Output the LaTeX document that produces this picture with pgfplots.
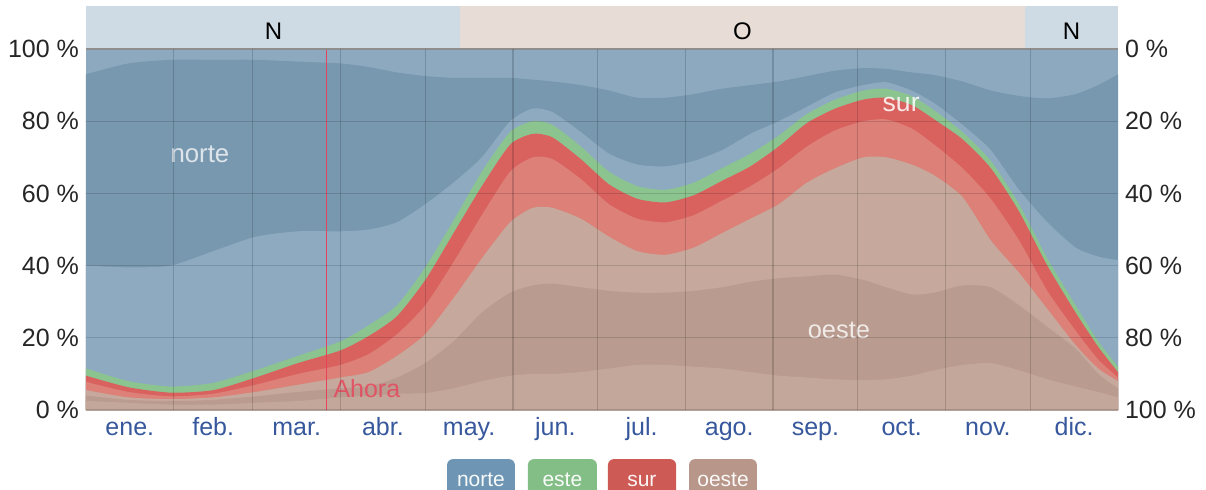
\documentclass[border=0pt]{standalone}
\usepackage{fontspec}
\setmainfont{Liberation Sans}
\usepackage{pgfplots}
\usepackage{pgfplotstable}
\pgfplotsset{compat=1.18}

\definecolor{nTop}{HTML}{8CA9C0}
\definecolor{nDark}{HTML}{7898B0}
\definecolor{nLight}{HTML}{8DAAC1}
\definecolor{eGreen}{HTML}{8CC490}
\definecolor{sDark}{HTML}{D9625F}
\definecolor{sLight}{HTML}{DC8078}
\definecolor{wLight}{HTML}{C6A99C}
\definecolor{wDark}{HTML}{B99B8F}
\definecolor{wBottom}{HTML}{C4A79B}
\definecolor{bandN}{HTML}{CEDBE4}
\definecolor{bandO}{HTML}{E7DCD6}
\definecolor{monthblue}{HTML}{37589C}
\definecolor{legN}{HTML}{6E96B4}
\definecolor{legE}{HTML}{84BE87}
\definecolor{legS}{HTML}{CD5A55}
\definecolor{legW}{HTML}{B8968A}
\definecolor{ahora}{HTML}{E8435A}

% cumulative boundaries (percent of hours), from bottom: oeste bands, sur bands, este, norte bands
\pgfplotstableread{
day b1 b2 b3 b4 b5 b6 b7 b8
0 2.5 4 5.5 7.8 9.5 11.5 40 93
15 2 2.8 3.5 5 6.3 8 39.5 96
30 1.5 2.5 3 3.8 4.8 6.5 40 97
45 1.5 2.8 3.5 4.5 5.5 7.5 44 97
60 2 3.8 5 7 9 11 48 97
75 2.5 5 7 10 13 15 49.5 96.5
90 3.5 6 9 12.5 16.5 19 49.5 96
100 4 6.5 10.5 15.5 20.5 23.5 50 95
110 4.5 9 15 21 26 29 52 93.5
120 4.7 13 21 29 36 39.5 57 92.5
130 6 19 31 41 49 52.5 63 92
140 8 27 42 54 62 66 70 92
150 9.5 32.5 52 66 73.5 77 80 92
158 10 34.5 56 70 76.5 80 83.5 91.5
165 10 35 56 69.5 75.5 79 82.5 91
175 10.5 34 53 64 69.5 73 77 90
185 11.5 33 48 57 62.5 66 71 88.5
195 12.5 32.5 44 53 58.5 62 68 86.5
205 12.5 32.5 43 52 57.5 61 67.5 86.5
215 12 33 45 54 59.5 63 69 87.5
225 11.5 34 49 58 63.5 67 72 89
235 10.5 35.5 53 62 67.5 71 76.5 90
245 9.5 36.5 57 67 73 76 80 91
255 9 37 63 73 79.5 82 84 92.5
265 8.5 37.5 67 77.5 83.5 86 88 94
275 8.3 36 70 80 86 88.5 90 94.7
283 8.5 34 70 80.5 86.5 89 90.8 94.5
292 9.5 32 68 78 84.5 87 88.5 93.5
300 11 32.5 65 73.5 80.5 83 85 92.8
310 12.5 34.5 59 67 75 77 79 91
320 13 34 47 58.5 67 69 72 88.5
330 11 29 38 47 55 57 61 87
340 8.5 23 28 33 40 42 52 86.3
350 6.5 17 18 22 27 29 45 87.5
358 5 10 11.5 14 17.5 19 42.5 90
365 3.5 6 8 9 10.5 12 41.5 93
}\winddata

\newcommand\tkfont{\fontsize{12.5}{15}\selectfont}

\begin{document}
\begin{tikzpicture}
\begin{axis}[
    at={(0,0)}, anchor=south west,
    scale only axis, width=516pt, height=180.5pt,
    xmin=0, xmax=365, ymin=0, ymax=100,
    clip=false, axis on top,
    axis line style={draw=none},
    xtick={15.5,45,74.5,105,135.5,166,196.5,227.5,258,288.5,319,349.5},
    xticklabels={ene.,feb.,mar.,abr.,may.,jun.,jul.,ago.,sep.,oct.,nov.,dic.},
    xticklabel style={font=\tkfont, text=monthblue, text height=9pt, text depth=2.5pt},
    major x tick style={draw=none},
    extra x ticks={31,59,90,120,151,181,212,243,273,304,334},
    extra x tick labels={},
    extra x tick style={grid=major, tick align=outside, major tick length=3pt,
        tick style={black!20, line width=0.6pt},
        major grid style={black, opacity=0.16, line width=0.6pt}},
    ytick={0,20,40,60,80,100},
    yticklabels={0 \%,20 \%,40 \%,60 \%,80 \%,100 \%},
    yticklabel style={font=\tkfont, text=black!85},
    ymajorgrids,
    major y tick style={draw=none},
    y grid style={black, opacity=0.14, line width=0.6pt},
]
\addplot[draw=none, fill=nTop] coordinates {(0,100) (365,100)} \closedcycle;
\addplot[draw=none, fill=nDark, smooth, tension=0.4] table[x=day, y=b8] {\winddata} \closedcycle;
\addplot[draw=none, fill=nLight, smooth, tension=0.4] table[x=day, y=b7] {\winddata} \closedcycle;
\addplot[draw=none, fill=eGreen, smooth, tension=0.4] table[x=day, y=b6] {\winddata} \closedcycle;
\addplot[draw=none, fill=sDark, smooth, tension=0.4] table[x=day, y=b5] {\winddata} \closedcycle;
\addplot[draw=none, fill=sLight, smooth, tension=0.4] table[x=day, y=b4] {\winddata} \closedcycle;
\addplot[draw=none, fill=wLight, smooth, tension=0.4] table[x=day, y=b3] {\winddata} \closedcycle;
\addplot[draw=none, fill=wDark, smooth, tension=0.4] table[x=day, y=b2] {\winddata} \closedcycle;
\addplot[draw=none, fill=wBottom, smooth, tension=0.4] table[x=day, y=b1] {\winddata} \closedcycle;

% now marker
\addplot[ahora, line width=0.8pt] coordinates {(85,0) (85,100)};
\node[anchor=base west, text=ahora, opacity=0.8, font=\fontsize{12.5}{15}\selectfont, inner sep=0pt] at (axis cs:87.4,3.6) {Ahora};

% series labels
\node[anchor=base, text=white, opacity=0.75, font=\fontsize{12.9}{15}\selectfont, inner sep=0pt] at (axis cs:40.3,68.5) {norte};
\node[anchor=base, text=white, opacity=0.85, font=\fontsize{13.3}{15}\selectfont, inner sep=0pt] at (axis cs:288.3,82.6) {sur};
\node[anchor=base, text=white, opacity=0.8, font=\fontsize{12.7}{15}\selectfont, inner sep=0pt] at (axis cs:266.3,19.9) {oeste};

% dominant direction band
\fill[bandN] (axis cs:0,100) rectangle (axis cs:132.3,112);
\fill[bandO] (axis cs:132.3,100) rectangle (axis cs:332.1,112);
\fill[bandN] (axis cs:332.1,100) rectangle (axis cs:365,112);
\draw[black!35, line width=0.6pt] (axis cs:0,100) -- (axis cs:365,100);
\node[anchor=base, font=\fontsize{12}{14}\selectfont, inner sep=0pt] at (axis cs:66.3,102.5) {N};
\node[anchor=base, font=\fontsize{12}{14}\selectfont, inner sep=0pt] at (axis cs:232.2,102.5) {O};
\node[anchor=base, font=\fontsize{12}{14}\selectfont, inner sep=0pt] at (axis cs:348.6,102.5) {N};

% legend chips
\fill[legN, rounded corners=3pt] (axis cs:127.7,-13.6) rectangle (axis cs:151.7,-26);
\fill[legE, rounded corners=3pt] (axis cs:156.3,-13.6) rectangle (axis cs:180.7,-26);
\fill[legS, rounded corners=3pt] (axis cs:184.6,-13.6) rectangle (axis cs:208.7,-26);
\fill[legW, rounded corners=3pt] (axis cs:213.3,-13.6) rectangle (axis cs:237.3,-26);
\node[anchor=base, text=white!94!legN, font=\fontsize{10.5}{12}\selectfont, inner sep=0pt] at (axis cs:139.7,-21.3) {norte};
\node[anchor=base, text=white!94!legE, font=\fontsize{10.5}{12}\selectfont, inner sep=0pt] at (axis cs:168.5,-21.3) {este};
\node[anchor=base, text=white!94!legS, font=\fontsize{10.5}{12}\selectfont, inner sep=0pt] at (axis cs:196.6,-21.3) {sur};
\node[anchor=base, text=white!94!legW, font=\fontsize{10.5}{12}\selectfont, inner sep=0pt] at (axis cs:225.3,-21.3) {oeste};
\end{axis}

\begin{axis}[
    at={(0,0)}, anchor=south west,
    scale only axis, width=516pt, height=180.5pt,
    xmin=0, xmax=365, ymin=0, ymax=100, y dir=reverse,
    axis x line=none, axis y line*=right,
    y axis line style={draw=none},
    ytick={0,20,40,60,80,100},
    yticklabels={0 \%,20 \%,40 \%,60 \%,80 \%,100 \%},
    yticklabel style={font=\tkfont, text=black!85},
    major y tick style={draw=none},
]
\addplot[draw=none] coordinates {(0,0) (365,100)};
\end{axis}

\pgfresetboundingbox
\useasboundingbox (-43pt,-39.5pt) rectangle (560pt,205pt);
\end{tikzpicture}
\end{document}
